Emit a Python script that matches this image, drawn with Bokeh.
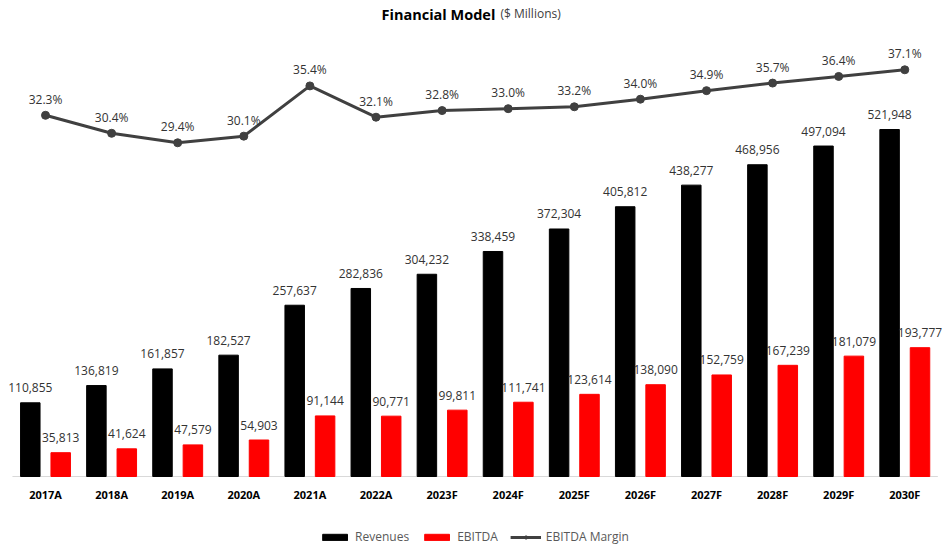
from bokeh.plotting import figure
from bokeh.models import Range1d, Label, Legend, LegendItem, ColumnDataSource
from bokeh.core.properties import value
from bokeh.embed import file_html
from bokeh.resources import INLINE

# ---- data ----
years = ["2017A", "2018A", "2019A", "2020A", "2021A", "2022A", "2023F",
         "2024F", "2025F", "2026F", "2027F", "2028F", "2029F", "2030F"]
revenues = [110855, 136819, 161857, 182527, 257637, 282836, 304232,
            338459, 372304, 405812, 438277, 468956, 497094, 521948]
ebitda = [35813, 41624, 47579, 54903, 91144, 90771, 99811,
          111741, 123614, 138090, 152759, 167239, 181079, 193777]
margin = [32.3, 30.4, 29.4, 30.1, 35.4, 32.1, 32.8,
          33.0, 33.2, 34.0, 34.9, 35.7, 36.4, 37.1]

FONT = "Open Sans"
n = len(years)
idx = list(range(n))
off = 0.23
bw = 0.295
step_px = 66.1           # pixel width of one category
left_pad = 45 / step_px   # canvas left edge -> first category centre
right_pad = 43.7 / step_px

src = ColumnDataSource(dict(
    x=idx,
    xr=[i - off for i in idx],
    xe=[i + off for i in idx],
    zero=[0] * n,
    cat=years,
    rev=revenues,
    ebt=ebitda,
    mar=margin,
    rev_lbl=[f"{v:,}" for v in revenues],
    ebt_lbl=[f"{v:,}" for v in ebitda],
    mar_lbl=[f"{v:.1f}%" for v in margin],
))

p = figure(width=948, height=552, output_backend="svg", toolbar_location=None,
           x_range=Range1d(-left_pad, n - 1 + right_pad),
           y_range=Range1d(-114300, 716000),
           x_axis_location=None, y_axis_location=None,
           min_border=0)
p.outline_line_color = None
p.grid.visible = False
p.background_fill_color = "white"
p.border_fill_color = "white"

p.extra_y_ranges = {"margin": Range1d(-13.82, 44.41)}

# category axis baseline
p.segment(x0=[-0.5], y0=[0], x1=[n - 0.5], y1=[0], line_color="#d9d9d9", line_width=1)

# bars
r_rev = p.vbar(x="xr", top="rev", bottom=0, width=bw, source=src, color="#000000")
r_ebt = p.vbar(x="xe", top="ebt", bottom=0, width=bw, source=src, color="#ff0000")

# line
r_line = p.line(x="x", y="mar", source=src, y_range_name="margin",
                line_color="#404040", line_width=3)
r_pts = p.scatter(x="x", y="mar", source=src, y_range_name="margin",
                  size=8, fill_color="#404040", line_color="#404040")

# data labels
lbl_kw = dict(text_font=value(FONT), text_font_size="12px", text_color="#333333",
              text_align="center", text_baseline="alphabetic")
p.text(x="xr", y="rev", text="rev_lbl", source=src, y_offset=-15, **lbl_kw)
p.text(x="xe", y="ebt", text="ebt_lbl", source=src, y_offset=-15, **lbl_kw)
p.text(x="x", y="mar", text="mar_lbl", source=src, y_range_name="margin",
       y_offset=-16, **lbl_kw)

# category labels (x-axis)
p.text(x="x", y="zero", text="cat", source=src, y_offset=18,
       text_font=value(FONT), text_font_style="bold", text_font_size="11px",
       text_color="#000000", text_align="center", text_baseline="middle")

# title
p.add_layout(Label(x=381, y=538, x_units="screen", y_units="screen",
                   text="Financial Model", text_font=FONT, text_font_style="bold",
                   text_font_size="14.5px", text_color="#000000",
                   text_align="left", text_baseline="alphabetic"))
p.add_layout(Label(x=500, y=539, x_units="screen", y_units="screen",
                   text="($ Millions)", text_font=FONT,
                   text_font_size="12px", text_color="#404040",
                   text_align="left", text_baseline="alphabetic"))

# legend
legend = Legend(items=[
    LegendItem(label="Revenues", renderers=[r_rev]),
    LegendItem(label="EBITDA", renderers=[r_ebt]),
    LegendItem(label="EBITDA Margin", renderers=[r_line, r_pts]),
], orientation="horizontal", location="bottom_center",
    label_text_font=FONT, label_text_font_size="12px", label_text_color="#595959",
    glyph_width=31, glyph_height=8, label_standoff=5, spacing=12,
    padding=0, margin=7, border_line_alpha=0, background_fill_alpha=0,
    label_height=16)
p.add_layout(legend, "center")

open("out.html", "w").write(file_html(p, INLINE))
